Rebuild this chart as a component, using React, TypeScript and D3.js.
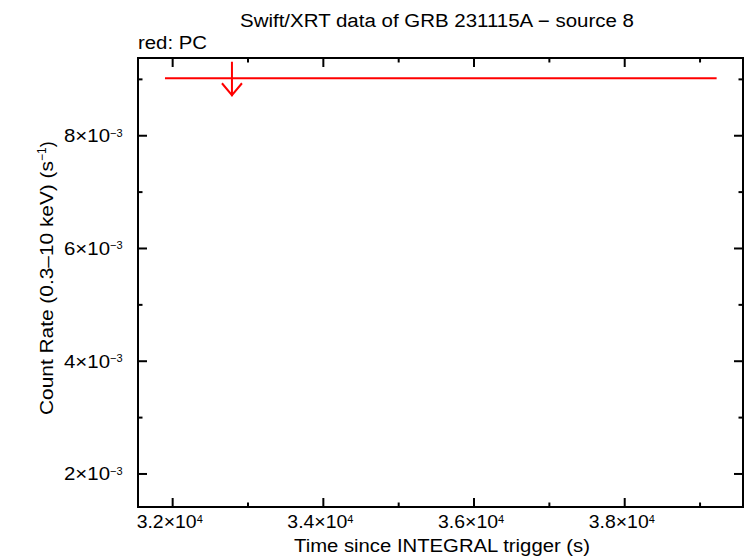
import React from "react";
import * as d3 from "d3";

// Data
const limitStart = [31898];
const limitEnd = [39220];
const limitTime = [32787];
const limitRate = [9.02e-3];

const xMajorTicks = [32000, 34000, 36000, 38000];
const xMinorTicks = [33000, 35000, 37000, 39000];
const xTickMantissa = ["3.2", "3.4", "3.6", "3.8"];
const xTickExp = ["4", "4", "4", "4"];
const yMajorTicks = [2e-3, 4e-3, 6e-3, 8e-3];
const yMinorTicks = [3e-3, 5e-3, 7e-3, 9e-3];
const yTickMantissa = ["2", "4", "6", "8"];
const yTickExp = ["\u22123", "\u22123", "\u22123", "\u22123"];

const W = 746, H = 558;
const L = 138, R = 743, T = 58, B = 507;
const FONT = "'Liberation Sans', Arial, Helvetica, sans-serif";

export default function App() {
  const x = d3.scaleLinear().domain([31540, 39570]).range([L, R]);
  const y = d3.scaleLinear().domain([1.414e-3, 9.379e-3]).range([B, T]);
  const red = "#ff0000";
  return (
    <svg width={W} height={H} style={{ position: "absolute", left: 0, top: 0, background: "#fff" }} fontFamily={FONT}>
      <rect x={0} y={0} width={W} height={H} fill="#fff" />
      <text x={240} y={27} fontSize={18} textLength={394} lengthAdjust="spacingAndGlyphs">Swift/XRT data of GRB 231115A {"\u2212"} source 8</text>
      <text x={138} y={49} fontSize={18} textLength={69} lengthAdjust="spacingAndGlyphs">red: PC</text>
      {/* ticks */}
      {xMajorTicks.map((t, i) => (
        <g key={"xM" + i} stroke="#000" strokeWidth={2}>
          <line x1={x(t)} x2={x(t)} y1={B} y2={B - 9} />
          <line x1={x(t)} x2={x(t)} y1={T} y2={T + 9} />
        </g>
      ))}
      {xMinorTicks.map((t, i) => (
        <g key={"xm" + i} stroke="#000" strokeWidth={2}>
          <line x1={x(t)} x2={x(t)} y1={B} y2={B - 4.5} />
          <line x1={x(t)} x2={x(t)} y1={T} y2={T + 4.5} />
        </g>
      ))}
      {yMajorTicks.map((t, i) => (
        <g key={"yM" + i} stroke="#000" strokeWidth={2}>
          <line x1={L} x2={L + 9} y1={y(t)} y2={y(t)} />
          <line x1={R} x2={R - 9} y1={y(t)} y2={y(t)} />
        </g>
      ))}
      {yMinorTicks.map((t, i) => (
        <g key={"ym" + i} stroke="#000" strokeWidth={2}>
          <line x1={L} x2={L + 4.5} y1={y(t)} y2={y(t)} />
          <line x1={R} x2={R - 4.5} y1={y(t)} y2={y(t)} />
        </g>
      ))}
      <rect x={L} y={T} width={R - L} height={B - T} fill="none" stroke="#000" strokeWidth={2} />
      {/* tick labels */}
      {xMajorTicks.map((t, i) => (
        <text key={"xl" + i} x={x(t) - 36} y={528} fontSize={19}>
          <tspan textLength={60} lengthAdjust="spacingAndGlyphs">{xTickMantissa[i]}{"\u00d7"}10</tspan>
          <tspan fontSize={11} dy={-5.5}>{xTickExp[i]}</tspan>
        </text>
      ))}
      {yMajorTicks.map((t, i) => (
        <text key={"yl" + i} x={64} y={y(t) + 6.5} fontSize={19}>
          <tspan textLength={46} lengthAdjust="spacingAndGlyphs">{yTickMantissa[i]}{"\u00d7"}10</tspan>
          <tspan fontSize={11} dy={-5.5}>{yTickExp[i]}</tspan>
        </text>
      ))}
      {/* axis titles */}
      <text x={294} y={552} fontSize={18} textLength={296} lengthAdjust="spacingAndGlyphs">Time since INTEGRAL trigger (s)</text>
      <text transform={`translate(53,415) rotate(-90)`} fontSize={18}>
        <tspan textLength={254} lengthAdjust="spacingAndGlyphs">Count Rate (0.3{"\u2013"}10 keV) (s</tspan><tspan fontSize={12} dy={-7}>{"\u22121"}</tspan><tspan dy={7}>)</tspan>
      </text>
      {/* upper limit */}
      {limitRate.map((r, i) => {
        const cx = x(limitTime[i]);
        const cy = y(r);
        return (
          <g key={"ul" + i} stroke={red} strokeWidth={2} fill="none">
            <line x1={x(limitStart[i])} x2={x(limitEnd[i])} y1={cy} y2={cy} />
            <line x1={cx} x2={cx} y1={cy - 16.5} y2={cy + 18} />
            <polyline points={`${cx - 10},${cy + 5} ${cx},${cy + 17} ${cx + 10},${cy + 5}`} />
          </g>
        );
      })}
    </svg>
  );
}
